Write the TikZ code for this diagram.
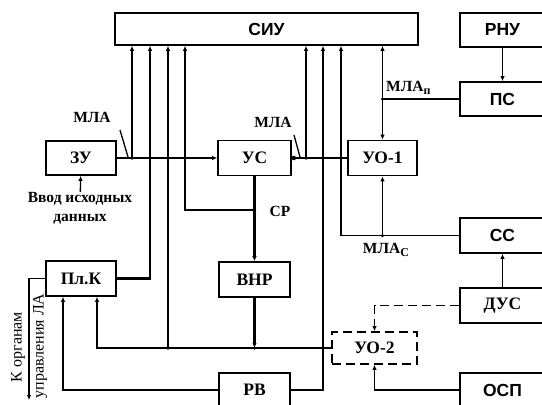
\documentclass[tikz,border=0pt]{standalone}
\usepackage{fontspec}
\setmainfont{Liberation Serif}
\newfontfamily\blksans{Liberation Sans}
\usepackage{tikz}
\usetikzlibrary{positioning,arrows.meta,calc}

\newcommand{\mlasub}[1]{\raisebox{-3pt}{\fontsize{12}{12}\selectfont #1}}

\tikzset{
  blk/.style={draw,line width=1.6pt,inner sep=0pt,
              font=\fontsize{17.5}{19}\selectfont\bfseries},
  sblk/.style={blk,font=\blksans\fontsize{17.5}{19}\selectfont\bfseries},
  ln/.style={line width=1.3pt},
  bus/.style={line width=2.2pt},
  arr/.style={-{Latex[length=5pt,width=4.5pt]}},
  dot/.style={circle,fill,inner sep=0pt,minimum size=4.5pt},
  lab/.style={font=\fontsize{15.5}{17}\selectfont\bfseries,inner sep=0pt},
  side/.style={font=\fontsize{16}{18}\selectfont,inner sep=0pt,rotate=90}
}

\begin{document}
\begin{tikzpicture}[x=1pt,y=-1pt]
\useasboundingbox[fill=white] (0,0) rectangle (542,405);

% blocks
\node[sblk,minimum width=303pt,minimum height=32pt] (siu) at (266.5,29) {СИУ};
\node[sblk,minimum width=85pt,minimum height=34pt] (rnu) at (502.5,30) {РНУ};
\node[sblk,minimum width=85pt,minimum height=34pt] (ps) at (502.5,99) {ПС};
\node[blk,minimum width=70pt,minimum height=34pt] (zu) at (81,158) {ЗУ};
\node[blk,minimum width=73pt,minimum height=35pt] (us) at (254.5,158) {УС};
\node[blk,minimum width=69pt,minimum height=35pt] (uo1) at (382.5,158) {УО-1};
\node[sblk,minimum width=85pt,minimum height=35pt] (cc) at (502.5,235.5) {СС};
\node[blk,minimum width=85pt,minimum height=35pt] (dus) at (502.5,305.5) {ДУС};
\node[blk,dashed,dash pattern=on 9pt off 5pt,minimum width=85pt,minimum height=32pt] (uo2) at (374.5,348) {УО-2};
\node[blk,minimum width=70pt,minimum height=35pt] (plk) at (81,278.5) {Пл.К};
\node[blk,minimum width=71pt,minimum height=35pt] (vnr) at (254.5,279.5) {ВНР};
\node[blk,minimum width=71pt,minimum height=34pt] (rv) at (254.5,390) {РВ};
\node[sblk,minimum width=85pt,minimum height=34pt] (osp) at (502.5,390) {ОСП};

% texts
\node[lab,align=center] (vvod) at (80,208) {Ввод исходных\\[2pt]данных};
\node[lab,anchor=center] (mla1) at (92,117) {МЛА};
\node[lab] (mla2) at (273,122) {МЛА};
\node[lab,anchor=west] (mlap) at (386,88) {МЛА\mlasub{п}};
\node[lab] (mlac) at (386,250) {МЛА\mlasub{С}};
\node[lab] (sr) at (280,211) {СР};
\node[side] (korg) at (18,347) {К органам};
\node[side] (upr) at (40,346) {управления ЛА};

% junctions
\coordinate (t1) at (132,158);
\coordinate (t2) at (306,158);
\coordinate (k1) at (150,278.5);
\coordinate (jsr) at (254.5,210);
\coordinate (k2) at (185,210);
\coordinate (n1) at (97,348);
\coordinate (n2) at (168,348);
\coordinate (n3) at (vnr.south |- uo2.west);
\coordinate (r1) at (63,390);
\coordinate (r2) at (323,390);
\coordinate (c1) at (341,235.5);
\coordinate (c2) at (uo1.south |- cc.west);
\coordinate (p1) at (uo1.north |- ps.west);
\coordinate (out) at (29,400);

% main bus
\draw[bus,arr] (zu) -- (us);
\draw[bus] (us) -- (uo1);
\node[dot] (d0) at ($(us.east)+(2,0)$) {};
\draw[ln] (120,130) -- (128,157);
\draw[ln] (294,135) -- (300,157);

% lines up to СИУ
\draw[ln,arr] (t1) -- (t1 |- siu.south);
\draw[ln,arr] (t2) -- (t2 |- siu.south);
\draw[bus,arr] (plk.east) -- (k1) -- (k1 |- siu.south);
\draw[ln,arr] (n2) -- (n2 |- siu.south);
\draw[bus,arr] (jsr) -- (k2) -- (k2 |- siu.south);
\draw[bus,arr] (rv.east) -- (r2) -- (r2 |- siu.south);
\draw[ln,arr] (cc.west) -- (c1) -- (c1 |- siu.south);
\draw[ln,arr] (p1) -- (p1 |- siu.south);

% УС, ВНР
\draw[bus,arr] (us.south) -- (vnr.north);
\draw[bus,arr] (vnr.south) -- (n3);

% lower bus to Пл.К
\draw[ln,arr] (uo2.west) -- (n1) -- (n1 |- plk.south);
\draw[ln,arr] (rv.west) -- (r1) -- (r1 |- plk.south);
\draw[ln,arr] (plk.west) -| (out);

% right side
\draw[ln,arr] (rnu) -- (ps);
\draw[ln] (ps.west) -- (p1);
\draw[ln,arr] (p1) -- (uo1.north);
\draw[ln,arr] (c2) -- (uo1.south);
\draw[ln,arr] (dus) -- (cc);
\draw[ln,dashed,dash pattern=on 9pt off 5pt,arr] (dus.west) -| (uo2.north);
\draw[ln,arr] (osp.west) -| (uo2.south);
\draw[ln,arr] (vvod) -- (zu);

% dots
\foreach \j in {t1,t2,n2,n3,jsr,c2,p1}
  \node[dot,minimum size=3.5pt] at (\j) {};

\end{tikzpicture}
\end{document}
